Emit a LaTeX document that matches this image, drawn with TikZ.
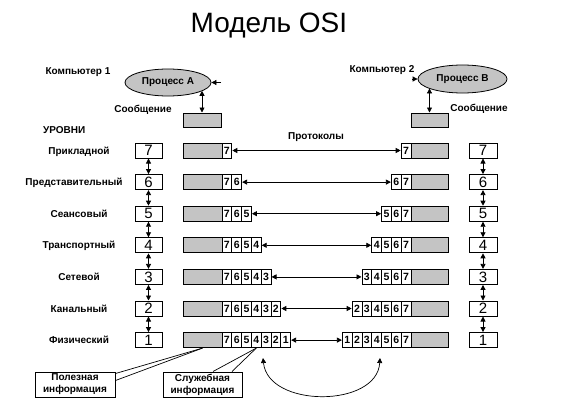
\documentclass[tikz,border=0pt]{standalone}
\usepackage{fontspec}
\setmainfont{Liberation Sans}
\usetikzlibrary{arrows.meta,shapes.geometric}
\definecolor{fillg}{RGB}{196,196,196}
\tikzset{
  lbl/.style={font=\bfseries\fontsize{10}{12}\selectfont, inner sep=0pt},
  numbox/.style={draw, line width=1pt, minimum width=27pt, minimum height=15pt, inner sep=0pt, font=\fontsize{15}{15}\selectfont},
  graybox/.style={draw, line width=1pt, fill=fillg, minimum width=39pt, minimum height=15pt, inner sep=0pt},
  cellbox/.style={draw, line width=1pt, fill=white, minimum width=9.8pt, minimum height=15pt, inner sep=0pt, font=\bfseries\fontsize{10.5}{10}\selectfont},
  procnode/.style={ellipse, draw, line width=0.8pt, fill=fillg, inner sep=0pt, font=\bfseries\fontsize{10}{10}\selectfont},
  callbox/.style={draw, line width=1pt, fill=white, minimum width=80pt, minimum height=25pt, inner sep=0pt, align=center, font=\bfseries\fontsize{10}{12}\selectfont},
  darr/.style={line width=0.8pt, {Triangle[length=5pt,width=5pt]}-{Triangle[length=5pt,width=5pt]}},
  sarr/.style={line width=0.8pt, -{Triangle[length=5pt,width=5pt]}},
  wedge/.style={line width=0.7pt}
}
\begin{document}
\begin{tikzpicture}[x=1pt,y=-1pt]
\fill[white] (0,0) rectangle (562,404);
\useasboundingbox (0,0) rectangle (562,404);

% title
\node[inner sep=0pt, anchor=base, font=\fontsize{28}{30}\selectfont] (title) at (269,33) {Модель OSI};

% computers
\node[lbl] (comp1) at (78,72) {Компьютер 1};
\node[lbl] (comp2) at (382,70) {Компьютер 2};
\node[procnode, minimum width=86pt, minimum height=27pt] (procA) at (168,82.5) {Процесс А};
\node[procnode, minimum width=89pt, minimum height=28pt] (procB) at (462.5,79) {Процесс В};
\coordinate (stubA) at (221,82.5);
\coordinate (stubB) at (412,79);
\draw[sarr] (stubA) -- (procA.east);
\draw[sarr] (stubB) -- (procB.west);

\node[graybox, minimum width=38pt, minimum height=14pt] (msgA) at (202,120) {};
\node[graybox, minimum width=37pt, minimum height=14pt] (msgB) at (429.5,120) {};
\coordinate (eA) at (202,90.8);
\coordinate (eB) at (429.5,88.4);
\draw[darr] (eA) -- (msgA.north);
\draw[darr] (eB) -- (msgB.north);
\node[lbl] (soobA) at (143,110) {Сообщение};
\node[lbl] (soobB) at (479,109) {Сообщение};

\node[lbl, anchor=west] (urovni) at (43,130) {УРОВНИ};
\node[lbl] (proto) at (316,137) {Протоколы};

% rows
\foreach \k/\nx/\name in {7/79/Прикладной, 6/74/Представительный, 5/79/Сеансовый, 4/79/Транспортный, 3/79/Сетевой, 2/79/Канальный, 1/79/Физический}{
  \pgfmathsetmacro\yy{150.5+(7-\k)*31.6}
  \pgfmathsetmacro\yb{\yy+3.5}
  \node[lbl, anchor=base] (lname\k) at (\nx,\yb) {\name};
  \node[numbox] (ln\k) at (148.5,\yy) {\k};
  \node[numbox, minimum width=28pt] (rn\k) at (483,\yy) {\k};
  \node[graybox] (gl\k) at (202.5,\yy) {};
  \node[graybox, minimum width=37pt] (gr\k) at (429.5,\yy) {};
  \foreach \j in {7,...,\k}{
    \pgfmathsetmacro\xl{222+9.8*(7-\j+0.5)}
    \pgfmathsetmacro\xr{411-9.8*(7-\j+0.5)}
    \node[cellbox] (lc\k-\j) at (\xl,\yy) {\j};
    \node[cellbox] (rc\k-\j) at (\xr,\yy) {\j};
  }
  \draw[darr] (lc\k-\k.east) -- (rc\k-\k.west);
}

% vertical arrows between levels
\foreach \k in {1,...,6}{
  \pgfmathtruncatemacro\kk{\k+1}
  \draw[darr] (ln\k.north) -- (ln\kk.south);
  \draw[darr] (rn\k.north) -- (rn\kk.south);
}

% callouts
\node[callbox] (polez) at (75,384.5) {Полезная\\информация};
\node[callbox, minimum width=79pt] (sluzh) at (202.5,384.5) {Служебная\\информация};
\draw[wedge] ([yshift=-2pt]polez.north east) -- (gl1.south);
\draw[wedge] ([yshift=-9pt]polez.north east) -- (gl1.south);
\draw[wedge] ([xshift=10.5pt]sluzh.north) -- (lc1-4.south);
\draw[wedge] ([xshift=29.5pt]sluzh.north) -- (lc1-4.south);

% physical link curve
\coordinate (cL) at (263,358);
\coordinate (cR) at (380,358);
\draw[darr, line width=0.7pt] (cL) .. controls (268,408) and (377,408) .. (cR);
\end{tikzpicture}
\end{document}
